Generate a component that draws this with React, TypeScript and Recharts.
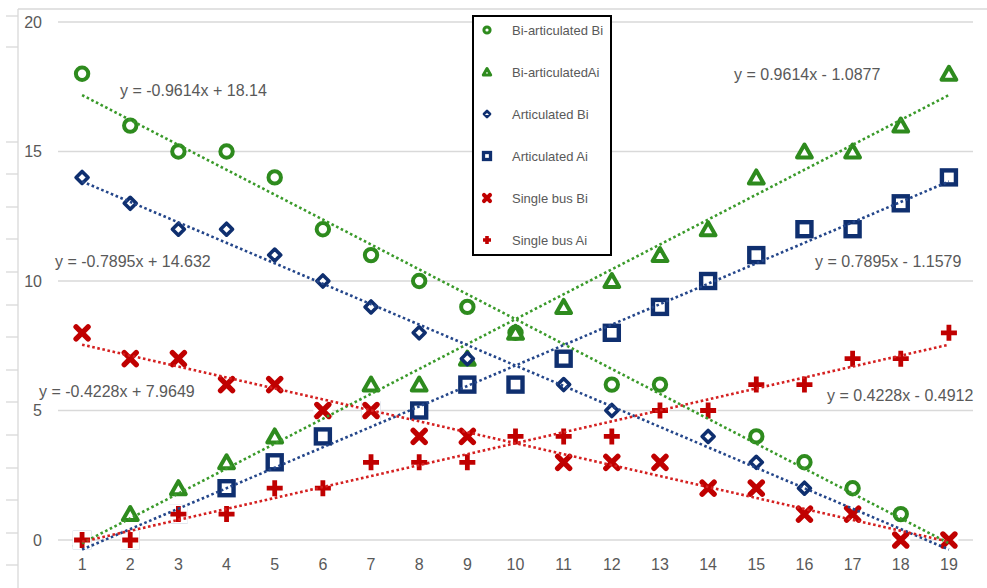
import {
  ScatterChart,
  Scatter,
  XAxis,
  YAxis,
  CartesianGrid,
  ReferenceLine,
  Legend,
} from "recharts";

const GREEN = "#2E8B1E";
const BLUE = "#0F2F6F";
const RED = "#C00000";
const TEXT = "#595959";
const FONT = "'Liberation Sans', Arial, sans-serif";

const xValues = [1, 2, 3, 4, 5, 6, 7, 8, 9, 10, 11, 12, 13, 14, 15, 16, 17, 18, 19];
const yTicks = [0, 5, 10, 15, 20];

const biArticulatedBi = [18, 16, 15, 15, 14, 12, 11, 10, 9, 8, 7, 6, 6, 5, 4, 3, 2, 1, 0];
const biArticulatedAi = [0, 1, 2, 3, 4, 5, 6, 6, 7, 8, 9, 10, 11, 12, 14, 15, 15, 16, 18];
const articulatedBi = [14, 13, 12, 12, 11, 10, 9, 8, 7, 6, 6, 5, 5, 4, 3, 2, 1, 0, 0];
const articulatedAi = [0, 0, 1, 2, 3, 4, 5, 5, 6, 6, 7, 8, 9, 10, 11, 12, 12, 13, 14];
const singleBusBi = [8, 7, 7, 6, 6, 5, 5, 4, 4, 4, 3, 3, 3, 2, 2, 1, 1, 0, 0];
const singleBusAi = [0, 0, 1, 1, 2, 2, 3, 3, 3, 4, 4, 4, 5, 5, 6, 6, 7, 7, 8];

// linear trendlines: [slope, intercept]
const trendBiArticulatedBi = [-0.9614, 18.14];
const trendBiArticulatedAi = [0.9614, -1.0877];
const trendArticulatedBi = [-0.7895, 14.632];
const trendArticulatedAi = [0.7895, -1.1579];
const trendSingleBusBi = [-0.4228, 7.9649];
const trendSingleBusAi = [0.4228, -0.4912];

const toPoints = (values: number[]) => xValues.map((x, i) => ({ x, y: values[i] }));

// s scales the glyph, w scales the stroke; markers have a white fill
type MarkProps = { cx?: number; cy?: number; s?: number; w?: number; backing?: boolean };

const CircleMark = ({ cx = 0, cy = 0, s = 1, w = 1 }: MarkProps) => (
  <circle cx={cx} cy={cy} r={6.2 * s} fill="#fff" stroke={GREEN} strokeWidth={4 * w} />
);

const TriangleMark = ({ cx = 0, cy = 0, s = 1, w = 1 }: MarkProps) => (
  <polygon
    points={`${cx},${cy - 7 * s} ${cx + 7.4 * s},${cy + 6 * s} ${cx - 7.4 * s},${cy + 6 * s}`}
    fill="#fff"
    stroke={GREEN}
    strokeWidth={4 * w}
    strokeLinejoin="round"
  />
);

const DiamondMark = ({ cx = 0, cy = 0, s = 1, w = 1 }: MarkProps) => (
  <polygon
    points={`${cx},${cy - 6 * s} ${cx + 6 * s},${cy} ${cx},${cy + 6 * s} ${cx - 6 * s},${cy}`}
    fill="#fff"
    stroke={BLUE}
    strokeWidth={3.6 * w}
    strokeLinejoin="round"
  />
);

const SquareMark = ({ cx = 0, cy = 0, s = 1, w = 1 }: MarkProps) => (
  <rect
    x={cx - 7 * s}
    y={cy - 7 * s}
    width={14 * s}
    height={14 * s}
    fill="#fff"
    stroke={BLUE}
    strokeWidth={4.4 * w}
  />
);

const XMark = ({ cx = 0, cy = 0, s = 1, w = 1, backing = true }: MarkProps) => (
  <g>
    {backing && <rect x={cx - 9.5} y={cy - 9.5} width={19} height={19} fill="#fff" />}
    <path
      d={`M${cx - 6 * s},${cy - 6 * s}L${cx + 6 * s},${cy + 6 * s}M${cx + 6 * s},${cy - 6 * s}L${cx - 6 * s},${cy + 6 * s}`}
      stroke={RED}
      strokeWidth={5.4 * w}
      strokeLinecap="round"
    />
  </g>
);

const PlusMark = ({ cx = 0, cy = 0, s = 1, w = 1, backing = true }: MarkProps) => (
  <g>
    {backing && <rect x={cx - 9.5} y={cy - 9.5} width={19} height={19} fill="#fff" />}
    <path
      d={`M${cx - 8 * s},${cy}L${cx + 8 * s},${cy}M${cx},${cy - 8 * s}L${cx},${cy + 8 * s}`}
      stroke={RED}
      strokeWidth={4.8 * w}
    />
  </g>
);

const legendItems = [
  { name: "Bi-articulated Bi", Mark: CircleMark },
  { name: "Bi-articulatedAi", Mark: TriangleMark },
  { name: "Articulated Bi", Mark: DiamondMark },
  { name: "Articulated Ai", Mark: SquareMark },
  { name: "Single bus Bi", Mark: XMark },
  { name: "Single bus Ai", Mark: PlusMark },
];

function BoxLegend() {
  return (
    <div
      style={{
        width: 136,
        height: 237,
        border: "2px solid #000",
        background: "#fff",
        display: "flex",
        flexDirection: "column",
        gap: 16,
        fontFamily: FONT,
        fontSize: 13,
        color: TEXT,
      }}
    >
      {legendItems.map(({ name, Mark }) => (
        <div key={name} style={{ height: 26, display: "flex", alignItems: "center" }}>
          <svg width={26} height={26} style={{ flex: "none" }}>
            <Mark cx={13} cy={13} s={0.5} w={0.75} backing={false} />
          </svg>
          <span style={{ marginLeft: 12, whiteSpace: "nowrap" }}>{name}</span>
        </div>
      ))}
    </div>
  );
}

const trendLabels = [
  { text: "y = -0.9614x + 18.14", x: 120, y: 96 },
  { text: "y = -0.7895x + 14.632", x: 55, y: 267 },
  { text: "y = -0.4228x + 7.9649", x: 39, y: 397 },
  { text: "y = 0.9614x - 1.0877", x: 734, y: 80 },
  { text: "y = 0.7895x - 1.1579", x: 815, y: 267 },
  { text: "y = 0.4228x - 0.4912", x: 827, y: 401 },
];

// outer frame with its tick marks on the left edge
const frameTicks = [16, 47, 142, 174, 207, 239, 272, 305, 337, 370, 402, 435, 468, 500, 533, 565];

const trendSegment = ([a, b]: number[]) => [
  { x: xValues[0], y: a * xValues[0] + b },
  { x: xValues[xValues.length - 1], y: a * xValues[xValues.length - 1] + b },
];

const trends = [
  { coef: trendBiArticulatedBi, color: "#3A9A2A" },
  { coef: trendBiArticulatedAi, color: "#3A9A2A" },
  { coef: trendArticulatedBi, color: "#24468A" },
  { coef: trendArticulatedAi, color: "#24468A" },
  { coef: trendSingleBusBi, color: "#D42020" },
  { coef: trendSingleBusAi, color: "#D42020" },
];

export default function App() {
  return (
    <div style={{ position: "absolute", left: 0, top: 0, width: 987, height: 588, background: "#fff" }}>
      <svg width={987} height={588} style={{ position: "absolute", left: 0, top: 0 }}>
        <line x1={18} y1={9} x2={987} y2={9} stroke="#d9d9d9" strokeWidth={1.3} />
        <line x1={18} y1={9} x2={18} y2={588} stroke="#d9d9d9" strokeWidth={1.3} />
        {frameTicks.map((t) => (
          <line key={t} x1={6} y1={t} x2={18} y2={t} stroke="#d9d9d9" strokeWidth={1.3} />
        ))}
      </svg>
      <div style={{ position: "absolute", left: 0, top: 0 }}>
        <ScatterChart
          width={987}
          height={588}
          margin={{ top: 22, right: 14, left: 18, bottom: 18 }}
        >
          <CartesianGrid vertical={false} stroke="#d9d9d9" strokeWidth={1.3} />
          <XAxis
            type="number"
            dataKey="x"
            domain={[0.5, 19.5]}
            ticks={xValues}
            interval={0}
            axisLine={false}
            tickLine={false}
            tickSize={0}
            tickMargin={19}
            height={30}
            tick={{ fill: TEXT, fontSize: 16, fontFamily: FONT }}
          />
          <YAxis
            type="number"
            dataKey="y"
            domain={[0, 20]}
            ticks={yTicks}
            axisLine={false}
            tickLine={false}
            tickSize={0}
            tickMargin={16}
            width={40}
            tick={{ fill: TEXT, fontSize: 16, fontFamily: FONT }}
          />
          <Legend
            layout="vertical"
            align="center"
            verticalAlign="middle"
            wrapperStyle={{ left: 472, top: 15, width: 140 }}
            content={() => <BoxLegend />}
          />
          <Scatter name="Bi-articulated Bi" data={toPoints(biArticulatedBi)} isAnimationActive={false}
            shape={(p: any) => <CircleMark cx={p.cx} cy={p.cy} />} />
          <Scatter name="Bi-articulatedAi" data={toPoints(biArticulatedAi)} isAnimationActive={false}
            shape={(p: any) => <TriangleMark cx={p.cx} cy={p.cy} />} />
          <Scatter name="Articulated Bi" data={toPoints(articulatedBi)} isAnimationActive={false}
            shape={(p: any) => <DiamondMark cx={p.cx} cy={p.cy} />} />
          <Scatter name="Articulated Ai" data={toPoints(articulatedAi)} isAnimationActive={false}
            shape={(p: any) => <SquareMark cx={p.cx} cy={p.cy} />} />
          <Scatter name="Single bus Bi" data={toPoints(singleBusBi)} isAnimationActive={false}
            shape={(p: any) => <XMark cx={p.cx} cy={p.cy} />} />
          <Scatter name="Single bus Ai" data={toPoints(singleBusAi)} isAnimationActive={false}
            shape={(p: any) => <PlusMark cx={p.cx} cy={p.cy} />} />
          {trends.map(({ coef, color }, i) => (
            <ReferenceLine
              key={i}
              segment={trendSegment(coef)}
              ifOverflow="visible"
              stroke={color}
              strokeWidth={2.6}
              strokeDasharray="2.6 2.6"
              {...({ zIndex: 1500 } as any)}
            />
          ))}
        </ScatterChart>
      </div>
      <svg width={987} height={588} style={{ position: "absolute", left: 0, top: 0, pointerEvents: "none" }}>
        {trendLabels.map((l) => (
          <text key={l.text} x={l.x} y={l.y} fill={TEXT} fontSize={16} fontFamily={FONT}>
            {l.text}
          </text>
        ))}
      </svg>
    </div>
  );
}
